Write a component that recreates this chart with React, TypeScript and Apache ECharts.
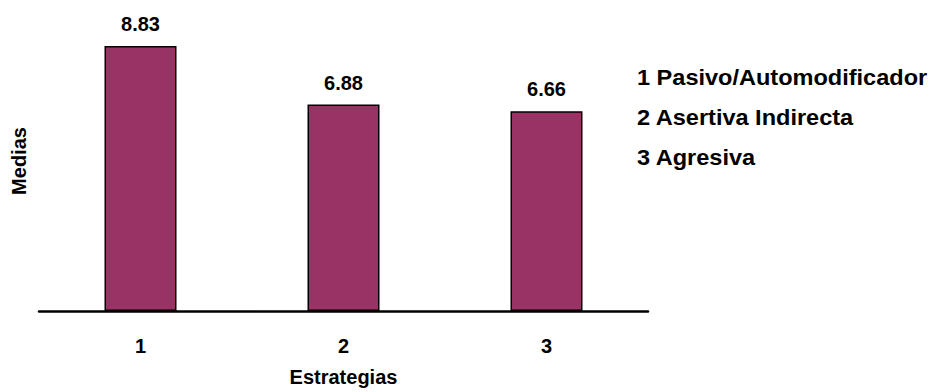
import React, { useEffect, useRef } from "react";
import * as echarts from "echarts";

// Estrategias de afrontamiento y su puntuación media
const categories: string[] = ["1", "2", "3"];
const medias: number[] = [8.83, 6.88, 6.66];
const legendLines: string[] = [
  "1 Pasivo/Automodificador",
  "2 Asertiva Indirecta",
  "3 Agresiva",
];

const FONT = "'Liberation Sans', Arial, Helvetica, sans-serif";

export default function App() {
  const ref = useRef<HTMLDivElement>(null);

  useEffect(() => {
    if (!ref.current) return;
    const chart = echarts.init(ref.current, null, { renderer: "svg" });

    chart.setOption({
      animation: false,
      backgroundColor: "#ffffff",
      textStyle: { fontFamily: FONT },
      grid: { left: 39, right: 287, top: 11, bottom: 80, containLabel: false },
      xAxis: {
        type: "category",
        data: categories,
        axisLine: { show: true, lineStyle: { color: "#000000", width: 2.5 } },
        axisTick: { show: false },
        axisLabel: {
          color: "#000000",
          fontWeight: "bold",
          fontSize: 20,
          fontFamily: FONT,
          margin: 25,
        },
        name: "Estrategias",
        nameLocation: "middle",
        nameGap: 56,
        nameTextStyle: {
          color: "#000000",
          fontWeight: "bold",
          fontSize: 20,
          fontFamily: FONT,
        },
      },
      yAxis: {
        type: "value",
        min: 0,
        max: 10,
        axisLine: { show: false },
        axisTick: { show: false },
        axisLabel: { show: false },
        splitLine: { show: false },
        name: "Medias",
        nameLocation: "middle",
        nameRotate: 90,
        nameGap: 10,
        nameTextStyle: {
          color: "#000000",
          fontWeight: "bold",
          fontSize: 20,
          fontFamily: FONT,
        },
      },
      series: [
        {
          type: "bar",
          data: medias,
          barWidth: 72,
          itemStyle: {
            color: "#993366",
            borderColor: "#000000",
            borderWidth: 1.5,
          },
          label: {
            show: true,
            position: "top",
            distance: 12,
            color: "#000000",
            fontWeight: "bold",
            fontSize: 20,
            fontFamily: FONT,
            formatter: (p: any) => Number(p.value).toFixed(2),
          },
        },
      ],
      graphic: legendLines.map((t, i) => ({
        type: "text",
        x: 637,
        y: 66 + i * 40,
        scaleX: 1.07,
        style: {
          text: t,
          fill: "#000000",
          font: `bold 22px ${FONT}`,
        },
      })),
    });

    return () => chart.dispose();
  }, []);

  return (
    <div
      ref={ref}
      style={{ position: "absolute", left: 0, top: 0, width: 935, height: 392 }}
    />
  );
}
